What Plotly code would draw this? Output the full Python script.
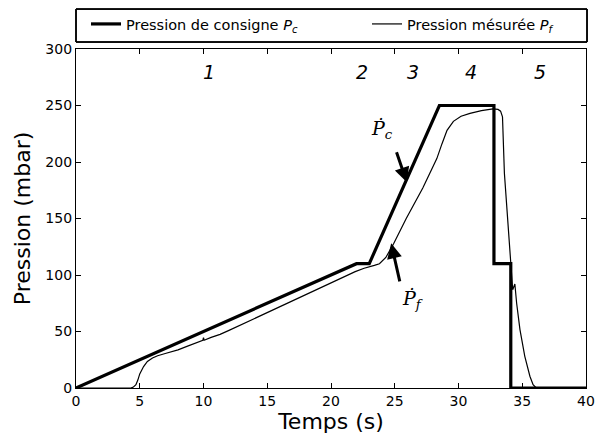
import plotly.graph_objects as go

# Setpoint pressure P_c
t_consigne = [0, 22, 23, 28.5, 32.78, 32.78, 34.1, 34.1, 40]
p_consigne = [0, 110, 110, 250, 250, 110, 110, 0, 0]

# Measured pressure P_f
t_mesure = [0, 4.3, 4.5, 4.7, 4.85, 5.0, 5.3, 5.6, 6.0, 6.4, 7.0, 7.5, 8.0, 8.7, 9.5,
            9.95, 10.0, 10.05, 10.6, 11.3, 12.0, 12.86, 13.8, 15.0, 16.78, 18.5, 20.7,
            21.9, 22.6, 23.0, 23.4, 23.8, 24.3, 24.9, 25.9, 27.2, 28.3, 28.7, 29.1,
            29.6, 30.2, 30.9, 31.8, 32.7, 33.1, 33.3, 33.45, 33.6, 33.9, 34.1, 34.25,
            34.35, 34.42, 34.56, 34.82, 35.2, 35.6, 35.85, 36.1, 40]
p_mesure = [0, 0, 0.8, 3.0, 7.0, 12.5, 19.0, 23.5, 26.5, 28.5, 30.5, 32.0, 33.8, 36.8, 40.0,
            42.3, 44.5, 42.3, 44.8, 47.5, 51.0, 55.5, 60.5, 66.5, 76.0, 85.5, 97.0,
            103.0, 106.0, 107.6, 108.5, 110.0, 115.5, 127.5, 150.0, 177.0, 203.0, 216.0, 228.0,
            236.0, 240.5, 243.0, 245.5, 247.0, 246.5, 245.0, 240.0, 190.0, 137.0, 110.6, 87.0,
            90.0, 92.0, 75.0, 51.7, 28.0, 10.4, 3.0, 0, 0]

# Phase boundaries and phase labels
phase_limits = [22, 23, 28.5, 32.78]
phase_names = ["1", "2", "3", "4", "5"]
phase_label_x = [10.4, 22.45, 26.4, 31.0, 36.4]
phase_label_y = 280

# Rate annotations (head, tail, label)
rate_labels = ["<i>Ṗ</i><sub><i>c</i></sub>", "<i>Ṗ</i><sub><i>f</i></sub>"]
rate_head = [(25.95, 182), (24.72, 128)]
rate_tail = [(25.1, 210), (25.42, 93)]
rate_text_pos = [(24.0, 229), (26.4, 78)]

FONT = "DejaVu Sans"
W, H = 595, 442

fig = go.Figure()
fig.add_trace(go.Scatter(x=t_consigne, y=p_consigne, mode="lines",
                         line=dict(color="black", width=3.2),
                         name="Pression de consigne <i>P</i><sub><i>c</i></sub>",
                         legend="legend"))
fig.add_trace(go.Scatter(x=t_mesure, y=p_mesure, mode="lines",
                         line=dict(color="black", width=1.2),
                         name="Pression mésurée <i>P</i><sub><i>f</i></sub>",
                         legend="legend2"))

for xv in phase_limits:
    fig.add_vline(x=xv, line=dict(color="#555555", width=1), layer="below")

annotations = []
for name, xl in zip(phase_names, phase_label_x):
    annotations.append(dict(x=xl, y=phase_label_y, xref="x", yref="y", text=f"<i>{name}</i>",
                            showarrow=False, font=dict(family=FONT, size=19, color="black")))
for lab, (hx, hy), (tx, ty), (lx, ly) in zip(rate_labels, rate_head, rate_tail, rate_text_pos):
    annotations.append(dict(x=hx, y=hy, ax=tx, ay=ty, xref="x", yref="y", axref="x", ayref="y",
                            text="", showarrow=True, arrowhead=2, arrowsize=1.0,
                            arrowwidth=3, arrowcolor="black"))
    annotations.append(dict(x=lx, y=ly, xref="x", yref="y", text=lab, showarrow=False,
                            font=dict(family="DejaVu Serif", size=19, color="black")))

legend_common = dict(orientation="h", xref="container", yref="container",
                     yanchor="middle", xanchor="left", bgcolor="rgba(0,0,0,0)", borderwidth=0,
                     font=dict(family=FONT, size=14.5, color="black"))

fig.update_layout(
    width=W, height=H,
    margin=dict(l=76, r=9, t=49, b=54, autoexpand=False),
    plot_bgcolor="white", paper_bgcolor="white",
    font=dict(family=FONT, size=14, color="black"),
    showlegend=True,
    legend=dict(x=86 / W, y=1 - 24 / H, **legend_common),
    legend2=dict(x=367 / W, y=1 - 24 / H, **legend_common),
    annotations=annotations,
    shapes=[dict(type="rect", xref="paper", yref="paper", x0=0, x1=1.002, y0=1.0206, y1=1.1178,
                 line=dict(color="black", width=1), fillcolor="rgba(0,0,0,0)")],
)
fig.update_xaxes(range=[0, 40], dtick=5, tick0=0, ticks="inside", ticklen=5, tickcolor="black",
                 mirror="allticks", showline=True, linecolor="black", linewidth=1.2,
                 showgrid=False, zeroline=False, automargin=False,
                 title=dict(text="Temps (s)", font=dict(family=FONT, size=22), standoff=4),
                 tickfont=dict(family=FONT, size=14))
fig.update_yaxes(range=[0, 300], dtick=50, tick0=0, ticks="inside", ticklen=5, tickcolor="black",
                 mirror="allticks", showline=True, linecolor="black", linewidth=1.2,
                 showgrid=False, zeroline=False, automargin=False,
                 title=dict(text="Pression (mbar)", font=dict(family=FONT, size=22), standoff=8),
                 tickfont=dict(family=FONT, size=14))

fig.write_html("out.html", config={"displayModeBar": False},
               post_script="document.body.style.margin='0';")
